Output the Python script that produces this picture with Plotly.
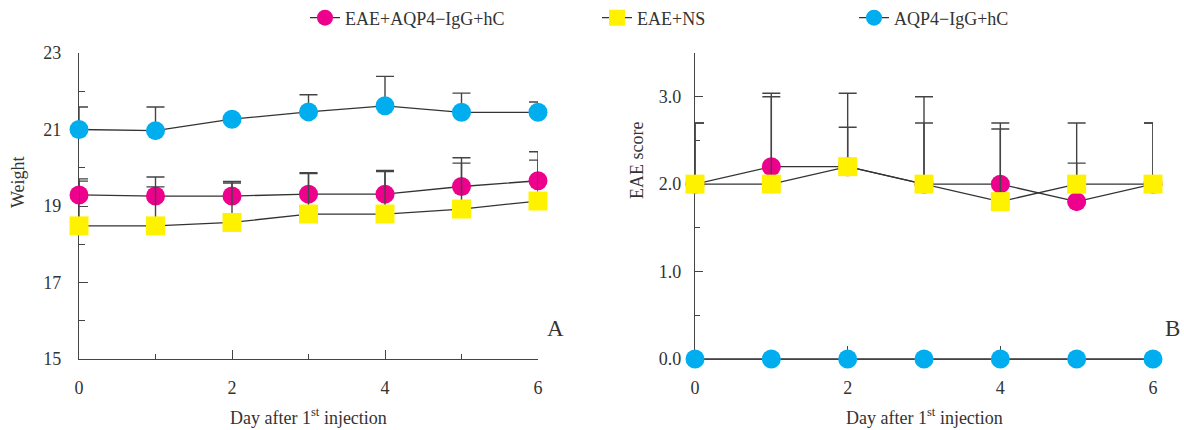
import plotly.graph_objects as go

days = [0, 1, 2, 3, 4, 5, 6]
series_names = ["EAE+AQP4−IgG+hC", "EAE+NS", "AQP4−IgG+hC"]

# Panel A: weight
weight_eae_aqp4 = [19.29, 19.26, 19.26, 19.31, 19.31, 19.51, 19.66]
weight_eae_aqp4_err = [0.42, 0.50, 0.38, 0.56, 0.62, 0.75, 0.76]
weight_eae_ns = [18.48, 18.48, 18.57, 18.79, 18.79, 18.92, 19.13]
weight_eae_ns_err = [1.17, 1.02, 1.03, 1.06, 1.11, 1.20, 1.07]
weight_aqp4 = [21.00, 20.97, 21.27, 21.46, 21.62, 21.45, 21.45]
weight_aqp4_err = [0.59, 0.62, 0.0, 0.45, 0.77, 0.50, 0.27]

# Panel B: EAE score
score_eae_aqp4 = [2.0, 2.2, 2.2, 2.0, 2.0, 1.8, 2.0]
score_eae_aqp4_err = [0.7, 0.84, 0.84, 1.0, 0.7, 0.9, 0.7]
score_eae_ns = [2.0, 2.0, 2.2, 2.0, 1.8, 2.0, 2.0]
score_eae_ns_err = [0.7, 1.0, 0.45, 0.7, 0.83, 0.24, 0.7]
score_aqp4 = [0, 0, 0, 0, 0, 0, 0]
score_aqp4_err = [0, 0, 0, 0, 0, 0, 0]

day_major = [0, 2, 4, 6]
day_minor = [1, 3, 5]
weight_ticks = [15, 17, 19, 21, 23]
weight_minor = [16, 18, 20, 22]
score_ticks = [0, 1, 2, 3]
score_ticktext = ["0.0", "1.0", "2.0", "3.0"]
score_minor = [0.5, 1.5, 2.5]

colors = ["#EC008C", "#FFF200", "#00AEEF"]
symbols = ["circle", "square", "circle"]
FONT = "Liberation Serif"
LINE = "#333333"
ERR = "#444444"
AX = "#444444"
TXT = "#333333"

fig = go.Figure()

panels = [
    ("x", "y", [weight_eae_aqp4, weight_eae_ns, weight_aqp4],
     [weight_eae_aqp4_err, weight_eae_ns_err, weight_aqp4_err], True),
    ("x2", "y2", [score_eae_aqp4, score_eae_ns, score_aqp4],
     [score_eae_aqp4_err, score_eae_ns_err, score_aqp4_err], False),
]
legends = ["legend", "legend2", "legend3"]
for xa, ya, vals, errs, show in panels:
    for i in range(3):
        has_err = any(e > 0 for e in errs[i])
        fig.add_trace(go.Scatter(
            x=days, y=vals[i], xaxis=xa, yaxis=ya,
            mode="lines+markers", name=series_names[i],
            line=dict(color=LINE, width=1.3),
            marker=dict(color=colors[i], symbol=symbols[i], size=19,
                        line=dict(width=0)),
            error_y=dict(type="data", array=errs[i], symmetric=False,
                         arrayminus=[0] * 7, color=ERR, thickness=1.4,
                         width=9, visible=has_err),
            cliponaxis=False, showlegend=show, legend=legends[i],
        ))

axis_common = dict(showline=True, linecolor=AX, linewidth=1.2,
                   showgrid=False, zeroline=False, ticks="inside",
                   tickcolor=AX, tickwidth=1.2, automargin=False,
                   layer="below traces",
                   tickfont=dict(family=FONT, size=18, color=TXT))

L = 79
R = 31
W = 1184 - L - R
dA = [0, (538 - L) / W]
dB = [(695 - L) / W, 1]

fig.update_layout(
    width=1184, height=430,
    margin=dict(l=L, r=R, t=53, b=71, autoexpand=False),
    paper_bgcolor="white", plot_bgcolor="white",
    font=dict(family=FONT, size=18, color=TXT),
    xaxis=dict(domain=dA, range=[0, 6], tickvals=day_major, ticklen=9,
               ticklabelstandoff=12, anchor="y",
               minor=dict(tickvals=day_minor, ticks="inside", ticklen=5,
                          tickcolor=AX, tickwidth=1.2),
               **axis_common),
    yaxis=dict(range=[15, 23], tickvals=weight_ticks, ticklen=9,
               ticklabelstandoff=13, anchor="x",
               minor=dict(tickvals=weight_minor, ticks="inside", ticklen=6,
                          tickcolor=AX, tickwidth=1.2),
               **axis_common),
    xaxis2=dict(domain=dB, range=[0, 6], tickvals=day_major, ticklen=13,
                ticklabelstandoff=12, anchor="y2",
                minor=dict(tickvals=day_minor, ticks="inside", ticklen=5,
                           tickcolor=AX, tickwidth=1.2),
                **axis_common),
    yaxis2=dict(range=[0, 3.5], tickvals=score_ticks, ticktext=score_ticktext,
                ticklen=8, ticklabelstandoff=9, anchor="x2",
                minor=dict(tickvals=score_minor, ticks="inside", ticklen=5,
                           tickcolor=AX, tickwidth=1.2),
                **axis_common),
)

H = 430 - 53 - 71


def py(p):
    return (359 - p) / H


def px(p):
    return (p - L) / W


leg_common = dict(orientation="h", yanchor="middle", yref="container",
                  y=1 - 18 / 430, xanchor="left",
                  bgcolor="rgba(0,0,0,0)", itemsizing="trace",
                  font=dict(family=FONT, size=18, color=TXT))
fig.update_layout(
    legend=dict(x=px(305), **leg_common),
    legend2=dict(x=px(597), **leg_common),
    legend3=dict(x=px(854), **leg_common),
)

ann_font = dict(family=FONT, size=18, color=TXT)
a_common = dict(xref="paper", yref="paper", showarrow=False,
                xanchor="center", yanchor="middle")
annotations = [
    dict(text="Day after 1<sup>st</sup> injection", x=px(308.5), y=py(416),
         font=ann_font, **a_common),
    dict(text="Day after 1<sup>st</sup> injection", x=px(924), y=py(416),
         font=ann_font, **a_common),
    dict(text="Weight", x=px(18), y=py(182), textangle=-90,
         font=ann_font, **a_common),
    dict(text="EAE score", x=px(637), y=py(161), textangle=-90,
         font=ann_font, **a_common),
    dict(text="A", x=px(555), y=py(328),
         font=dict(family=FONT, size=23, color=TXT), **a_common),
    dict(text="B", x=px(1172), y=py(328),
         font=dict(family=FONT, size=23, color=TXT), **a_common),
]
fig.update_layout(annotations=annotations)

fig.write_html("out.html", config={"displayModeBar": False},
               post_script="document.body.style.margin='0';")
